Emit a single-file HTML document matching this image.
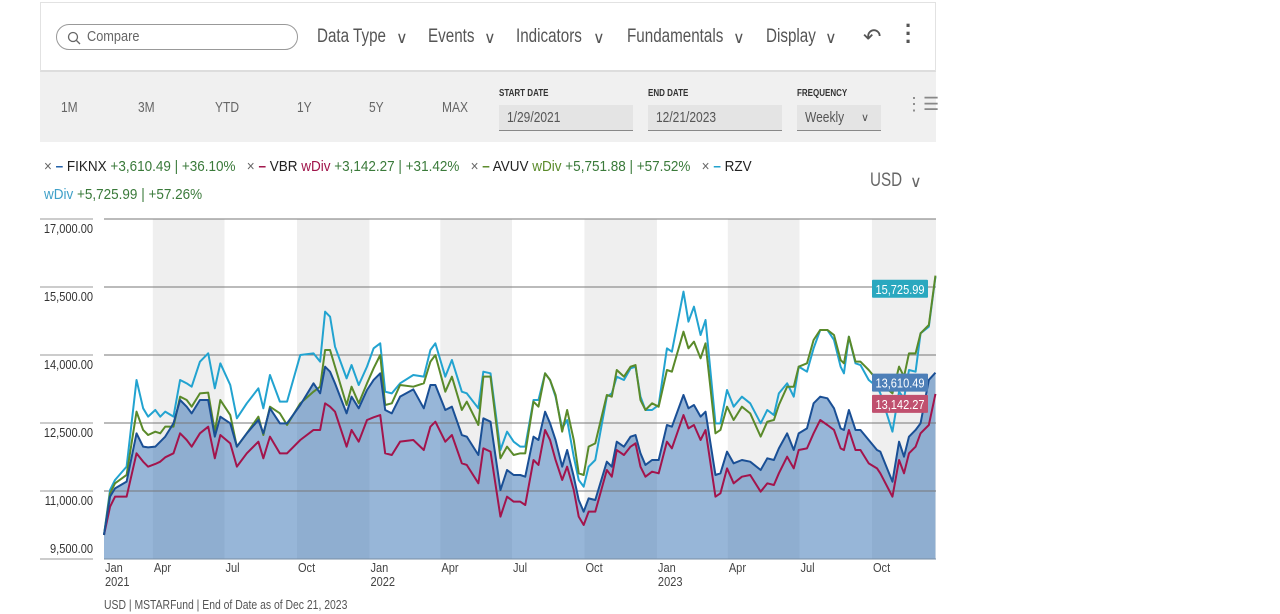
<!DOCTYPE html>
<html><head><meta charset="utf-8">
<style>
body{margin:0;width:1280px;height:614px;background:#fff;font-family:"Liberation Sans Narrow","Liberation Sans",sans-serif;color:#333;overflow:hidden;position:relative}
.abs{position:absolute}
.c{transform:scaleX(.8);transform-origin:0 0;white-space:nowrap}
.top{left:40px;top:2px;width:896px;height:70px;border:1px solid #e2e2e2;border-bottom:2px solid #ddd;box-sizing:border-box;background:#fff}
.search{left:56px;top:24px;width:242px;height:26px;border:1px solid #999;border-radius:14px;box-sizing:border-box;font-size:15px;color:#666;line-height:24px;padding-left:30px}
.menu{top:26px;font-size:19px;color:#555}
.chev{top:28px;font-size:16px;color:#555}
.bar2{left:40px;top:72px;width:896px;height:70px;background:#f0f0f0}
.rng{top:99px;font-size:15px;color:#666}
.lbl{font-size:10px;font-weight:bold;color:#333;top:88px}
.inp{top:105px;height:26px;background:#e4e4e4;border-bottom:1px solid #888;font-size:15px;color:#555;line-height:26px;padding-left:8px;box-sizing:border-box}
.leg{font-size:15px;white-space:nowrap}
</style></head><body>
<div class="abs top"></div>
<div class="abs search"><svg class="abs" style="left:10px;top:6px" width="14" height="14"><circle cx="6" cy="6" r="4.5" stroke="#666" fill="none" stroke-width="1.3"/><line x1="9.5" y1="9.5" x2="13" y2="13" stroke="#666" stroke-width="1.3"/></svg><span class="c" style="display:inline-block;transform:scaleX(.85)">Compare</span></div>
<div class="abs menu c" style="left:317px">Data Type</div>
<div class="abs chev" style="left:396px">∨</div>
<div class="abs menu c" style="left:428px">Events</div>
<div class="abs chev" style="left:484px">∨</div>
<div class="abs menu c" style="left:516px">Indicators</div>
<div class="abs chev" style="left:593px">∨</div>
<div class="abs menu c" style="left:627px">Fundamentals</div>
<div class="abs chev" style="left:733px">∨</div>
<div class="abs menu c" style="left:766px">Display</div>
<div class="abs chev" style="left:825px">∨</div>
<div class="abs menu" style="left:863px;top:24px;font-size:22px">↶</div>
<div class="abs menu" style="left:905px;top:22px;font-size:22px;font-weight:bold;line-height:8px">·<br>·<br>·</div>
<div class="abs bar2"></div>
<div class="abs rng c" style="left:61px">1M</div>
<div class="abs rng c" style="left:138px">3M</div>
<div class="abs rng c" style="left:215px">YTD</div>
<div class="abs rng c" style="left:297px">1Y</div>
<div class="abs rng c" style="left:369px">5Y</div>
<div class="abs rng c" style="left:442px">MAX</div>
<div class="abs lbl c" style="left:499px">START DATE</div>
<div class="abs inp" style="left:499px;width:134px"><span class="c" style="display:inline-block">1/29/2021</span></div>
<div class="abs lbl c" style="left:648px">END DATE</div>
<div class="abs lbl c" style="left:797px">FREQUENCY</div>
<div class="abs inp" style="left:648px;width:134px"><span class="c" style="display:inline-block">12/21/2023</span></div>
<div class="abs inp" style="left:797px;width:84px"><span class="c" style="display:inline-block">Weekly</span><span style="position:absolute;left:64px;font-size:11px">∨</span></div>
<div class="abs" style="left:905px;top:100px;font-size:18px;color:#888;line-height:8px">⋮☰</div>

<div class="abs leg c" style="left:44px;top:158px;transform:scaleX(.9)">
<span style="color:#666">×</span> <b style="color:#1f5fa8">–</b> <span style="color:#222">FIKNX</span> <span style="color:#3a7a3a">+3,610.49 | +36.10%</span> &nbsp;
<span style="color:#666">×</span> <b style="color:#a0144a">–</b> <span style="color:#222">VBR</span> <span style="color:#a0144a">wDiv</span> <span style="color:#3a7a3a">+3,142.27 | +31.42%</span> &nbsp;
<span style="color:#666">×</span> <b style="color:#5a8a2a">–</b> <span style="color:#222">AVUV</span> <span style="color:#5a8a2a">wDiv</span> <span style="color:#3a7a3a">+5,751.88 | +57.52%</span> &nbsp;
<span style="color:#666">×</span> <b style="color:#1fa0cc">–</b> <span style="color:#222">RZV</span></div>
<div class="abs leg c" style="left:44px;top:186px;transform:scaleX(.9)"><span style="color:#3fa0c8">wDiv</span> <span style="color:#3a7a3a">+5,725.99 | +57.26%</span></div>
<div class="abs c" style="left:870px;top:170px;font-size:19px;color:#666">USD</div>
<div class="abs" style="left:910px;top:172px;font-size:16px;color:#666">∨</div>
<div class="abs c" style="left:104px;top:597px;font-size:13px;color:#555">USD | MSTARFund | End of Date as of Dec 21, 2023</div>

<svg class="abs" style="left:0;top:0" width="1280" height="614" id="chart"></svg>
<script>
const weeks=[0,1.1,2,4.1,5.9,7.1,8,9.3,10.2,11.1,12.6,13.8,15,15.9,17.4,18.9,20.1,21.1,22.9,24.1,25.9,28,28.9,30.1,31.9,33.2,35.6,38,39.2,40.1,41,41.9,44,44.9,46.2,47.7,48.9,50.1,51,52.2,53.7,56.1,58,59.2,60.1,61.9,63.1,64.9,65.8,67.9,68.8,70.1,71.9,73.1,74.3,75.5,76.4,77.9,78.8,80,80.9,81.9,83.1,84,85.2,86.1,87,87.9,89.1,91.2,92.1,93,94.3,95.5,96.4,97.3,98.2,99.4,100.6,102.1,103,105.1,106,107,108.2,109.1,110.9,111.8,113,114.2,115.7,117.2,119.1,120.3,121.5,122.4,123.9,125.1,126,127.5,128.7,129.9,131.2,132.4,133.6,134.2,135.1,136.3,137.2,138.7,140.2,140.8,143,144.2,145.1,146,147.2,148.1,149.6,150.8];
const fiknx=[10030,10875,11059,11206,12272,11978,11963,11978,12088,12199,12493,13007,12860,12713,13007,13007,12199,12640,12493,11978,12272,12566,12272,12824,12493,12493,12897,13375,13154,13743,13632,13375,12713,13081,12824,13228,13449,13596,12787,12713,13081,13243,12824,13338,13338,12787,12860,12235,12199,11794,12603,12529,11022,11463,11353,11353,11316,12199,12125,12750,12493,12125,11537,11904,11316,10801,10544,10838,10801,11647,11537,12088,11978,12199,12235,11831,11574,11684,11684,12456,12419,13118,12824,12897,12640,12750,11353,11390,11868,11610,11684,11647,11463,11721,11684,11941,12272,11904,12272,12382,12934,13081,13044,12824,12382,12346,12787,12346,12346,12125,11904,11868,11206,12088,11757,12199,12346,12493,13449,13610];
const vbr=[10030,10654,10875,10875,11831,11647,11537,11596,11647,11743,11831,12272,12125,11978,12272,12419,11721,12235,12051,11537,11831,12088,11721,12199,11831,11831,12125,12346,12346,12934,12860,12750,11978,12346,12088,12566,12625,12676,11831,11794,12088,12125,11904,12419,12529,12088,12235,11610,11574,11169,11941,11868,10434,10875,10765,10765,10691,11684,11574,12346,12125,11684,11243,11537,11022,10434,10250,10544,10544,11463,11316,11904,11794,11978,12051,11537,11316,11426,11390,12088,11941,12676,12382,12456,12125,12346,10875,10949,11500,11169,11316,11353,10985,11169,11132,11390,11757,11500,11904,11941,12272,12566,12456,12346,11941,11904,12346,11904,11904,11610,11500,11390,10875,11684,11390,11831,11978,12272,12456,13142];
const avuv=[10030,10949,11169,11353,12750,12346,12235,12309,12272,12419,12419,13081,13007,12860,13154,13169,12309,13007,12676,11978,12272,12640,12235,12860,12713,12456,12934,13191,13301,14110,14110,13743,12897,13301,12934,13375,13706,14000,12897,12934,13338,13301,13375,13853,14000,13191,13522,12787,12971,12456,13522,13522,11721,11978,11794,11831,11831,12971,12860,13596,13449,13118,12309,12787,12125,11390,11353,11978,12051,13118,13081,13669,13522,13743,13779,13007,12787,12934,12860,13669,13632,14515,14147,14294,13927,14257,12272,12346,12860,12566,12860,12713,12199,12529,12566,12897,13301,13301,13743,13816,14331,14552,14552,14441,13890,13816,14404,13853,13853,13669,13449,13375,13154,13743,13522,14037,14037,14478,14662,15752];
const rzv=[10030,11022,11243,11537,13449,12824,12640,12787,12640,12750,12640,13449,13375,13301,13853,14037,13265,13816,13338,12603,12934,13265,12824,13559,12971,12971,14000,14037,13853,14956,14846,14184,13485,13779,13338,13743,14147,14257,13191,13154,13375,13559,13522,14110,14257,13522,13890,13191,13154,12824,13632,13596,11904,12309,12088,11978,11978,13007,13007,13596,13449,13081,12382,12566,11757,11243,11096,11537,11684,13081,13154,13522,13449,13706,13743,13081,12787,12787,12897,14147,14074,15397,14735,15066,14441,14772,12493,12493,13228,12860,13081,12934,12493,12787,12676,13154,13375,13081,13743,13632,14147,14552,14552,14331,13743,13596,14404,13816,13779,13449,13301,13154,12309,13191,13044,13669,13632,14478,14625,15726];
const yTicks=[9500,11000,12500,14000,15500,17000];
const xTickLabels=["Jan|2021","Apr","Jul","Oct","Jan|2022","Apr","Jul","Oct","Jan|2023","Apr","Jul","Oct"];
const badgeLabels=["15,725.99","13,610.49","13,142.27"];

const NS="http://www.w3.org/2000/svg", svg=document.getElementById('chart');
const X0=104,X1=936,Y0=559,Y1=219,W0=0,W1=150.9;
const startDate=Date.UTC(2021,0,29);
const x=w=>X0+(w-W0)/(W1-W0)*(X1-X0);
const y=v=>Y0-(v-9500)/(17000-9500)*(Y0-Y1);
const wk=(yr,m)=>(Date.UTC(yr,m,1)-startDate)/(7*864e5);
function el(t,a,p){const e=document.createElementNS(NS,t);for(const k in a)e.setAttribute(k,a[k]);(p||svg).appendChild(e);return e;}
function ctext(a,str,sx){const g=el('g',{transform:`translate(${a.x},${a.y}) scale(${sx||0.85},1)`});const t=el('text',Object.assign({},a,{x:0,y:0}),g);t.textContent=str;return t;}
const qs=[];for(let yr=2021;yr<=2024;yr++)for(let m=0;m<12;m+=3)qs.push([yr,m]);
for(let i=1;i<qs.length;i+=2){let a=Math.max(wk(...qs[i]),0),b=Math.min(wk(...qs[i+1]||[2024,3]),W1);if(a>=W1)break;
 const r=el('rect',{x:x(a),y:Y1,width:x(b)-x(a),height:Y0-Y1,fill:'#efefef'});
 
 }
const n=Math.min(weeks.length,fiknx.length,vbr.length,avuv.length,rzv.length);
let dA=`M${x(weeks[0])},${Y0}`;for(let i=0;i<n;i++)dA+=`L${x(weeks[i])},${y(fiknx[i])}`;dA+=`L${x(weeks[n-1])},${Y0}Z`;
const area=el('path',{d:dA,fill:'rgba(55,115,180,0.52)'});


yTicks.forEach((v,i)=>{
 const g=el('line',{x1:X0,x2:X1,y1:y(v),y2:y(v),stroke:i==0?'#7a8fa5':'#777','stroke-width':1});
 
 
 const s=el('line',{x1:40,x2:93,y1:y(v),y2:y(v),stroke:'#999'});
 
 
 const t=ctext({x:93,y:i==0?y(v)-6:y(v)+14,'text-anchor':'end','font-size':13,fill:'#333'},v.toLocaleString('en-US',{minimumFractionDigits:2}));
 
 
});
const months=[[2021,0],[2021,3],[2021,6],[2021,9],[2022,0],[2022,3],[2022,6],[2022,9],[2023,0],[2023,3],[2023,6],[2023,9]];
months.forEach((mm,i)=>{
 const w=Math.max(wk(mm[0],mm[1]),0);
 const parts=xTickLabels[i].split('|');
 parts.forEach((p,j)=>{const t=ctext({x:x(w)+1,y:572+j*14,'text-anchor':'start','font-size':13,fill:'#444'},p);
 
 });
});
function line(arr,col,name){let d='';for(let i=0;i<n;i++)d+=(i?'L':'M')+x(weeks[i])+','+y(arr[i]);
 const p=el('path',{d:d,fill:'none',stroke:col,'stroke-width':2,'stroke-linejoin':'round'});
 
 }
line(rzv,'#22a3d0','rzv-line');
line(avuv,'#5a8a2a','avuv-line');
line(vbr,'#a3144c','vbr-line');
line(fiknx,'#1a4f95','fiknx-line');
const bs=[[rzv[n-1],'#2aa8bf',12],[fiknx[n-1],'#4d7fb8',10],[vbr[n-1],'#c0506f',10]];
bs.forEach((b,i)=>{const by=y(b[0])+b[2];
 const r=el('rect',{x:872,y:by-9,width:56,height:18,fill:b[1],rx:1});
 
 
 const t=ctext({x:900,y:by+5,'text-anchor':'middle','font-size':13,fill:'#fff'},badgeLabels[i]);
 
 });
</script>
</body></html>
